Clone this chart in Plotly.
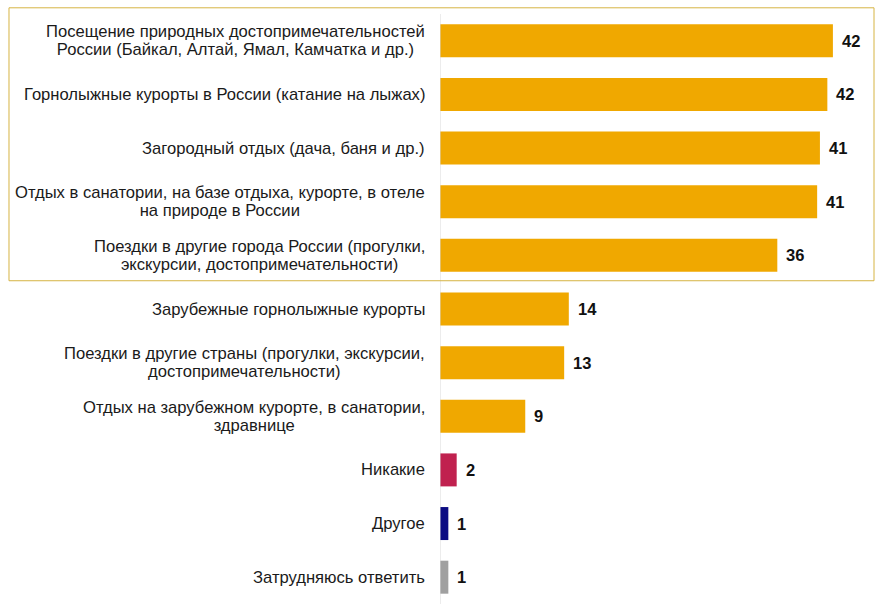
import plotly.graph_objects as go

categories = [
    "Посещение природных достопримечательностей<br>России (Байкал, Алтай, Ямал, Камчатка и др.)",
    "Горнолыжные курорты в России (катание на лыжах)",
    "Загородный отдых (дача, баня и др.)",
    "Отдых в санатории, на базе отдыха, курорте, в отеле<br>на природе в России",
    "Поездки в другие города России (прогулки,<br>экскурсии, достопримечательности)",
    "Зарубежные горнолыжные курорты",
    "Поездки в другие страны (прогулки, экскурсии,<br>достопримечательности)",
    "Отдых на зарубежном курорте, в санатории,<br>здравнице",
    "Никакие",
    "Другое",
    "Затрудняюсь ответить",
]
values = [42.4, 41.8, 41.0, 40.7, 36.4, 13.9, 13.4, 9.2, 1.8, 0.9, 0.9]
labels = ["42", "42", "41", "41", "36", "14", "13", "9", "2", "1", "1"]
colors = ["#F0A800"] * 8 + ["#C0214F", "#0C0C82", "#A0A0A0"]

FONT = "Arial, Liberation Sans, sans-serif"

fig = go.Figure(go.Bar(
    x=values, y=list(range(len(categories))), orientation="h",
    marker=dict(color=colors, line=dict(width=0)),
    hoverinfo="skip",
))


def styled(cat):
    # larger glyphs inside a smaller base font gives a tighter line spacing
    return "<br>".join(
        '<span style="font-size:16.6px">' + part + "</span>" for part in cat.split("<br>")
    )


annotations = []
for i, (cat, v, lab) in enumerate(zip(categories, values, labels)):
    annotations.append(dict(
        x=0, y=i, xref="x", yref="y", text=styled(cat), showarrow=False,
        xanchor="right", yanchor="middle", align="center", xshift=-13,
        font=dict(family=FONT, size=13.8, color="#1a1a1a"),
    ))
    annotations.append(dict(
        x=v, y=i, xref="x", yref="y", text="<b>" + lab + "</b>", showarrow=False,
        xanchor="left", yanchor="middle", xshift=7,
        font=dict(family=FONT, size=16.5, color="#111111"),
    ))

fig.update_layout(
    width=885, height=613, autosize=False,
    margin=dict(l=440, r=28, t=14, b=9),
    paper_bgcolor="white", plot_bgcolor="white",
    bargap=0.385,
    showlegend=False,
    xaxis=dict(range=[0, 45], visible=False, fixedrange=True),
    yaxis=dict(range=[10.5, -0.5], showticklabels=False, showgrid=False,
               zeroline=False, showline=False, ticks=""),
    annotations=annotations,
    shapes=[
        dict(type="line", xref="x", yref="paper", x0=0, x1=0, y0=0, y1=1,
             line=dict(color="#d9d9d9", width=1)),
        dict(type="rect", xref="paper", yref="paper",
             x0=-1.0336, x1=1.0408, y0=0.5479, y1=1.0105,
             line=dict(color="#D6B443", width=1), fillcolor="rgba(0,0,0,0)"),
    ],
)

fig.write_html("out.html")
